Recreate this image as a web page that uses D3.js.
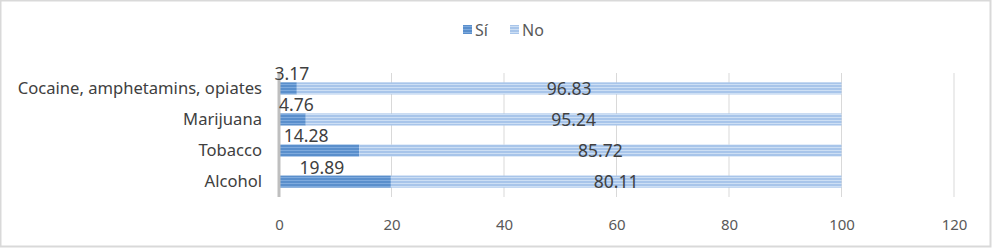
<!DOCTYPE html>
<html>
<head>
<meta charset="utf-8">
<script src="https://cdn.jsdelivr.net/npm/d3@7"></script>
<style>
  body { margin: 0; background: #fff; }
  svg text { font-family: "Noto Sans", "Open Sans", sans-serif; }
</style>
</head>
<body>
<div id="chart"></div>
<script>
const categories = ["Alcohol", "Tobacco", "Marijuana", "Cocaine, amphetamins, opiates"];
const siValues = [19.89, 14.28, 4.76, 3.17];
const noValues = [80.11, 85.72, 95.24, 96.83];
const seriesNames = ["Sí", "No"];
const xTicks = [0, 20, 40, 60, 80, 100, 120];

const W = 993, H = 249;
const margin = { top: 73, right: 39, bottom: 52, left: 279 };
const width = W - margin.left - margin.right;
const height = H - margin.top - margin.bottom;

const svg = d3.select("#chart").append("svg")
  .attr("width", W).attr("height", H);

// stripe patterns
const defs = svg.append("defs");
function stripe(id, base, line) {
  const p = defs.append("pattern")
    .attr("id", id).attr("patternUnits", "userSpaceOnUse")
    .attr("width", 6).attr("height", 3);
  p.append("rect").attr("width", 6).attr("height", 3).attr("fill", base);
  p.append("rect").attr("y", 2).attr("width", 6).attr("height", 1).attr("fill", line);
}
stripe("pSi", "#5a8fcc", "#7eaadd");
stripe("pNo", "#a8c5ea", "#cddff4");

svg.append("rect")
  .attr("x", 0.5).attr("y", 0.5).attr("width", W - 3).attr("height", H - 3)
  .attr("fill", "#fff").attr("stroke", "#d9d9d9").attr("stroke-width", 2);

const g = svg.append("g").attr("transform", `translate(${margin.left},${margin.top})`);

const x = d3.scaleLinear().domain([0, 120]).range([0, width]);
const y = d3.scaleBand().domain(categories).range([height, 0]).paddingInner(0.61).paddingOuter(0.3);

// gridlines
g.selectAll(".grid").data(xTicks.filter(d => d > 0)).enter().append("line")
  .attr("x1", d => x(d)).attr("x2", d => x(d))
  .attr("y1", 0).attr("y2", height)
  .attr("stroke", "#d9d9d9").attr("stroke-width", 1);

// bars
const rows = categories.map((c, i) => ({ cat: c, si: siValues[i], no: noValues[i] }));
g.selectAll(".si").data(rows).enter().append("rect")
  .attr("x", x(0)).attr("y", d => y(d.cat))
  .attr("width", d => x(d.si) - x(0)).attr("height", y.bandwidth())
  .attr("fill", "url(#pSi)");
g.selectAll(".no").data(rows).enter().append("rect")
  .attr("x", d => x(d.si)).attr("y", d => y(d.cat))
  .attr("width", d => x(d.si + d.no) - x(d.si)).attr("height", y.bandwidth())
  .attr("fill", "url(#pNo)");

// value axis labels
const xAxis = g.append("g").attr("transform", `translate(0,${height})`)
  .call(d3.axisBottom(x).tickValues(xTicks).tickSize(0).tickPadding(22));
xAxis.select(".domain").remove();
xAxis.selectAll("text").attr("fill", "#595959").style("font-size", "15px");

// category axis
const yAxis = g.append("g")
  .call(d3.axisLeft(y).tickSize(0).tickPadding(17));
yAxis.select(".domain").remove();
yAxis.selectAll("text").attr("fill", "#404040").style("font-size", "16.6px");

g.append("line")
  .attr("x1", 0).attr("x2", 0).attr("y1", 0).attr("y2", height)
  .attr("stroke", "#bfbfbf").attr("stroke-width", 3);

// data labels
g.selectAll(".lsi").data(rows).enter().append("text")
  .attr("x", d => x(d.si / 2) + (d.si > 10 ? -13 : 4))
  .attr("y", d => y(d.cat) - 2)
  .attr("text-anchor", "middle")
  .attr("fill", "#404040").style("font-size", "17.5px")
  .text(d => d.si.toFixed(2));
g.selectAll(".lno").data(rows).enter().append("text")
  .attr("x", d => x(d.si + d.no / 2))
  .attr("y", d => y(d.cat) + y.bandwidth() / 2)
  .attr("dy", "0.36em")
  .attr("text-anchor", "middle")
  .attr("fill", "#404040").style("font-size", "17.5px")
  .text(d => d.no.toFixed(2));

// legend
const legend = svg.append("g").attr("transform", "translate(463,30)");
const legItems = legend.selectAll("g").data(seriesNames).enter().append("g")
  .attr("transform", (d, i) => `translate(${i * 47},0)`);
legItems.append("rect")
  .attr("x", 0).attr("y", -5).attr("width", 9).attr("height", 9)
  .attr("fill", (d, i) => i === 0 ? "url(#pSi)" : "url(#pNo)");
legItems.append("text")
  .attr("x", 12).attr("y", 0).attr("dy", "0.36em")
  .attr("fill", "#595959").style("font-size", "16px")
  .text(d => d);
</script>
</body>
</html>
